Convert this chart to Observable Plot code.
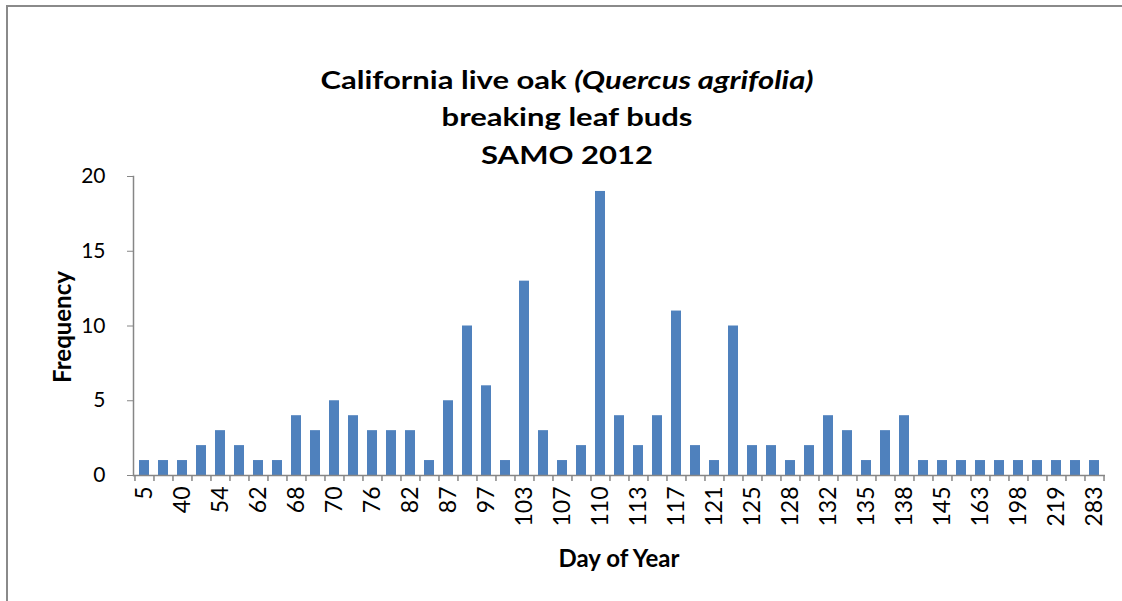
<!DOCTYPE html>
<html>
<head>
<meta charset="utf-8">
<script src="https://cdn.jsdelivr.net/npm/d3@7"></script>
<script src="https://cdn.jsdelivr.net/npm/@observablehq/plot@0.6"></script>
<style>
  html, body { margin: 0; padding: 0; background: #fff; }
  #wrap { position: relative; width: 1122px; height: 601px; overflow: hidden; font-family: Lato, "Open Sans", sans-serif; }
  #border { position: absolute; left: 6px; top: 5px; width: 1200px; height: 700px; border-left: 2px solid #8a8a8a; border-top: 2px solid #8a8a8a; box-sizing: border-box; }
  #chart { position: absolute; left: 0; top: 0; }
  .title { position: absolute; left: 567px; transform: translateX(-50%) scaleX(1.24); transform-origin: 50% 0; font-weight: bold; font-size: 25px; color: #000; line-height: 1; white-space: nowrap; }
  .ylab { position: absolute; left: 61px; top: 327px; transform: translate(-50%, -50%) rotate(-90deg); font-weight: bold; font-size: 24px; white-space: nowrap; }
  .xlab { position: absolute; left: 619px; top: 557px; transform: translate(-50%, -50%); font-weight: bold; font-size: 24px; white-space: nowrap; }
</style>
</head>
<body>
<div id="wrap">
  <div id="border"></div>
  <div id="chart"></div>
  <div class="title" style="top:67px">California live oak <i>(Quercus agrifolia)</i></div>
  <div class="title" style="top:104px">breaking leaf buds</div>
  <div class="title" style="top:142px">SAMO 2012</div>
  <div class="ylab">Frequency</div>
  <div class="xlab">Day of Year</div>
</div>
<script>
// Day-of-year categories (every other one is labeled on the axis)
const days = ["5","33","40","47","54","58","62","65","68","69","70","73","76","79","82","85","87","92","97","100","103","105","107","108","110","112","113","115","117","119","121","123","125","127","128","130","132","134","135","137","138","141","145","150","163","180","198","205","219","250","283"];
// Frequency of observations
const freq = [1,1,1,2,3,2,1,1,4,3,5,4,3,3,3,1,5,10,6,1,13,3,1,2,19,4,2,4,11,2,1,10,2,2,1,2,4,3,1,3,4,1,1,1,1,1,1,1,1,1,1];
// Tick labels shown on the x axis
const tickLabels = ["5","40","54","62","68","70","76","82","87","97","103","107","110","113","117","121","125","128","132","135","138","145","163","198","219","283"];
const yTicks = [0, 5, 10, 15, 20];

const data = days.map((d, i) => ({day: d, freq: freq[i]}));

const W = 1122, H = 601, mL = 133, mR = 17, mT = 176, mB = 126;
const step = (W - mL - mR) / days.length;
const axisColor = "#868686";

const chart = Plot.plot({
  width: W,
  height: H,
  marginLeft: mL,
  marginRight: mR,
  marginTop: mT,
  marginBottom: mB,
  style: { fontFamily: "Lato, 'Open Sans', sans-serif", background: "transparent", color: "#000" },
  x: { type: "band", domain: days, paddingInner: 0.5, paddingOuter: 0.25, axis: null },
  y: { domain: [0, 20], axis: null },
  marks: [
    Plot.barY(data, { x: "day", y: "freq", fill: "#4F81BD" }),
    Plot.frame({ anchor: "left", stroke: axisColor, strokeWidth: 1.5 }),
    Plot.ruleY([0], { stroke: axisColor, strokeWidth: 1.5 }),
    Plot.ruleX(days, { x: d => d, y1: 0, y2: 0, insetBottom: -6, dx: -step / 2, stroke: axisColor, strokeWidth: 1.5 }),
    Plot.ruleX([days[days.length - 1]], { x: d => d, y1: 0, y2: 0, insetBottom: -6, dx: step / 2, stroke: axisColor, strokeWidth: 1.5 }),
    Plot.axisY({ ticks: yTicks, tickSize: 6, tickPadding: 22, fontSize: 21, label: null, stroke: axisColor, fill: "#000" }),
    Plot.axisX({ ticks: tickLabels, tickSize: 0, tickPadding: 11, tickRotate: -90, fontSize: 23, label: null, fill: "#000" })
  ]
});
document.getElementById("chart").appendChild(chart);
</script>
</body>
</html>
